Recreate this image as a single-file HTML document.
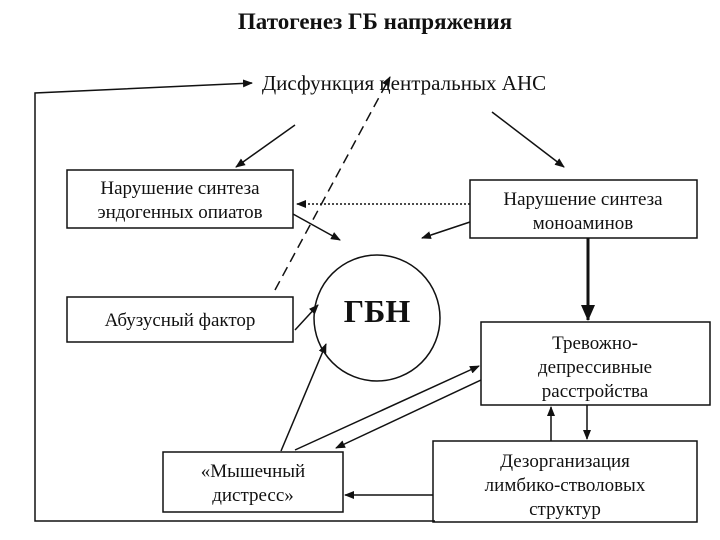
<!DOCTYPE html>
<html><head><meta charset="utf-8"><style>
html,body{margin:0;padding:0;background:#fff;}
svg{display:block;}
text{font-family:"Liberation Serif","DejaVu Serif",serif;fill:#111;}
</style></head><body>
<svg width="720" height="540" viewBox="0 0 720 540" xmlns="http://www.w3.org/2000/svg">
<defs>
<marker id="a" markerWidth="10" markerHeight="8" refX="9" refY="4" orient="auto" markerUnits="userSpaceOnUse"><path d="M0,0 L10,4 L0,8 Z" fill="#111"/></marker>
<marker id="b" markerWidth="16" markerHeight="14" refX="15" refY="7" orient="auto" markerUnits="userSpaceOnUse"><path d="M0,0 L16,7 L0,14 Z" fill="#111"/></marker>
</defs>
<text x="375" y="29" font-size="23" font-weight="bold" text-anchor="middle">Патогенез ГБ напряжения</text>
<text x="404" y="90" font-size="21" text-anchor="middle">Дисфункция центральных АНС</text>
<g fill="none" stroke="#111" stroke-width="1.5">
<polyline points="435,521 35,521 35,93 252,83" marker-end="url(#a)"/>
<rect x="67" y="170" width="226" height="58"/>
<rect x="470" y="180" width="227" height="58"/>
<rect x="67" y="297" width="226" height="45"/>
<circle cx="377" cy="318" r="63"/>
<rect x="481" y="322" width="229" height="83"/>
<rect x="433" y="441" width="264" height="81"/>
<rect x="163" y="452" width="180" height="60"/>
<line x1="295" y1="125" x2="236" y2="167" marker-end="url(#a)"/>
<line x1="492" y1="112" x2="564" y2="167" marker-end="url(#a)"/>
<line x1="470" y1="204" x2="297" y2="204" stroke-dasharray="2,2" marker-end="url(#a)"/>
<line x1="293" y1="214" x2="340" y2="240" marker-end="url(#a)"/>
<line x1="470" y1="222" x2="422" y2="238" marker-end="url(#a)"/>
<line x1="588" y1="238" x2="588" y2="320" stroke-width="3" marker-end="url(#b)"/>
<line x1="275" y1="290" x2="390" y2="77" stroke-dasharray="10,6" marker-end="url(#a)"/>
<line x1="295" y1="330" x2="318" y2="305" marker-end="url(#a)"/>
<line x1="281" y1="451" x2="326" y2="344" marker-end="url(#a)"/>
<line x1="295" y1="450" x2="479" y2="366" marker-end="url(#a)"/>
<line x1="481" y1="380" x2="336" y2="448" marker-end="url(#a)"/>
<line x1="551" y1="441" x2="551" y2="407" marker-end="url(#a)"/>
<line x1="587" y1="405" x2="587" y2="439" marker-end="url(#a)"/>
<line x1="433" y1="495" x2="345" y2="495" marker-end="url(#a)"/>
</g>
<g font-size="19" text-anchor="middle">
<text x="180" y="194">Нарушение синтеза</text>
<text x="180" y="218">эндогенных опиатов</text>
<text x="583" y="205">Нарушение синтеза</text>
<text x="583" y="229">моноаминов</text>
<text x="180" y="326">Абузусный фактор</text>
<text x="595" y="349">Тревожно-</text>
<text x="595" y="373">депрессивные</text>
<text x="595" y="397">расстройства</text>
<text x="565" y="467">Дезорганизация</text>
<text x="565" y="491">лимбико-стволовых</text>
<text x="565" y="515">структур</text>
<text x="253" y="477">«Мышечный</text>
<text x="253" y="501">дистресс»</text>
</g>
<text x="377" y="322" font-size="32" font-weight="bold" text-anchor="middle">ГБН</text>
</svg>
</body></html>
